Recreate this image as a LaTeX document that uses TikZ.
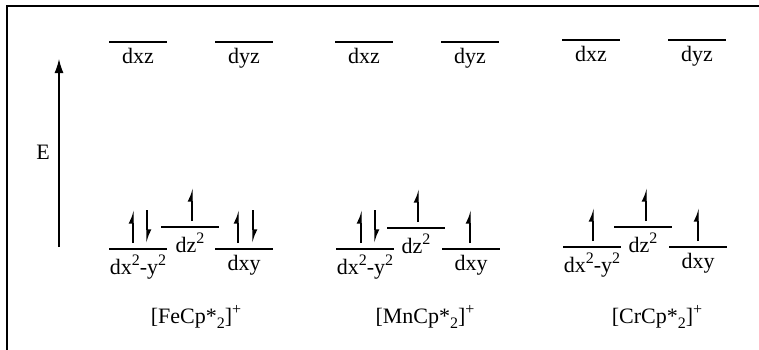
\documentclass[tikz,border=0pt]{standalone}
\usepackage{fontspec}
\setmainfont{Liberation Serif}
\usetikzlibrary{arrows.meta}

% one d level: name, left x, y, label
\newcommand{\orblevel}[4]{%
  \draw[orbline] (#2,#3) -- ++(\lvlw,0);
  \coordinate (#1) at (#2+\lvlw/2,#3);
  \node[orblabel] (#1-lbl) at (#2+\lvlw/2,#3+6) {#4};
}
% electrons sitting on a level: level name, x offset
\newcommand{\elup}[2]{\draw[spin] ([xshift=#2pt,yshift=6pt]#1) -- ++(0,-33);}
\newcommand{\eldown}[2]{\draw[spin] ([xshift=#2pt,yshift=39pt]#1) -- ++(0,33);}
\newcommand{\sups}[1]{\raisebox{0.4em}{\fontsize{16}{16}\selectfont #1}}
\newcommand{\subs}[1]{\raisebox{-0.25em}{\fontsize{16}{16}\selectfont #1}}

\begin{document}
\begin{tikzpicture}[x=1pt, y=-1pt]
\def\lvlw{58}
\tikzset{
  orbline/.style={line width=1.5pt},
  orblabel/.style={font=\fontsize{22}{24}\selectfont, inner sep=0pt, anchor=north},
  cplxlabel/.style={font=\fontsize{22}{24}\selectfont, inner sep=0pt},
  spin/.style={line width=1.4pt, -{Latex[left, length=11pt, width=9pt]}}
}
\useasboundingbox (0,0) rectangle (759,349);
% Frame (cut off at right and bottom)
\draw[line width=2pt] (7,352) -- (7,6) -- (762,6);
% Energy axis
\coordinate (ebot) at (59,247);
\coordinate (etop) at (59,59);
\draw[line width=1.3pt, -{Latex[length=14pt, width=9pt]}] (ebot) -- (etop);
\node[cplxlabel] (elbl) at (43,152) {E};
% [FeCp*2]+
\orblevel{fexz}{109}{42}{dxz}
\orblevel{feyz}{215}{42}{dyz}
\orblevel{fex2}{109}{249}{dx\sups{2}-y\sups{2}}
\orblevel{fez2}{161}{227}{dz\sups{2}}
\orblevel{fexy}{215}{249}{dxy}
\elup{fex2}{-5} \eldown{fex2}{9}
\elup{fez2}{2}
\elup{fexy}{-6} \eldown{fexy}{9}
\node[cplxlabel] (fe) at (196,317) {[FeCp*\subs{2}]\sups{+}};
% [MnCp*2]+
\orblevel{mnxz}{335}{42}{dxz}
\orblevel{mnyz}{441}{42}{dyz}
\orblevel{mnx2}{336}{249}{dx\sups{2}-y\sups{2}}
\orblevel{mnz2}{387}{228}{dz\sups{2}}
\orblevel{mnxy}{442}{249}{dxy}
\elup{mnx2}{-4} \eldown{mnx2}{10}
\elup{mnz2}{2}
\elup{mnxy}{-1}
\node[cplxlabel] (mn) at (425,317) {[MnCp*\subs{2}]\sups{+}};
% [CrCp*2]+
\orblevel{crxz}{562}{40}{dxz}
\orblevel{cryz}{668}{40}{dyz}
\orblevel{crx2}{563}{247}{dx\sups{2}-y\sups{2}}
\orblevel{crz2}{614}{227}{dz\sups{2}}
\orblevel{crxy}{669}{247}{dxy}
\elup{crx2}{1}
\elup{crz2}{3}
\elup{crxy}{0}
\node[cplxlabel] (cr) at (657,317) {[CrCp*\subs{2}]\sups{+}};
\end{tikzpicture}
\end{document}
